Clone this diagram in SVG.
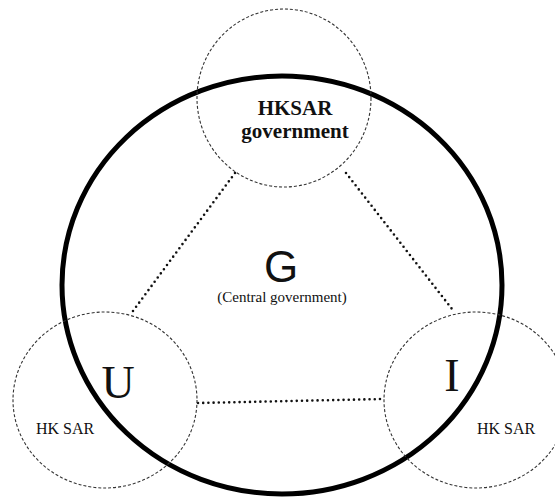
<svg xmlns="http://www.w3.org/2000/svg" width="555" height="497" viewBox="0 0 555 497">
  <style>
    .party { fill: none; stroke: #333; stroke-width: 1.1; stroke-dasharray: 3 2; }
    .outer { fill: none; stroke: #000; stroke-width: 5; }
    .link { fill: none; stroke: #111; stroke-width: 2.6; stroke-dasharray: 0 5.2; stroke-linecap: round; }
    .serif { font-family: "Liberation Serif", "Times New Roman", serif; fill: #111; }
    .sans { font-family: "Liberation Sans", Arial, sans-serif; fill: #111; }
  </style>

  <rect width="555" height="497" fill="#fff"/>

  <!-- outer boundary: central government -->
  <g id="central">
    <ellipse class="outer" cx="282" cy="285" rx="220" ry="209"/>
    <text class="sans" x="281" y="282" font-size="44" text-anchor="middle">G</text>
    <text class="serif" x="282" y="302" font-size="15" text-anchor="middle">(Central government)</text>
  </g>

  <!-- relations between the three parties -->
  <g id="connectors">
    <line class="link" x1="235" y1="173" x2="133" y2="311"/>
    <line class="link" x1="346" y1="173" x2="452" y2="309"/>
    <line class="link" x1="198" y1="403" x2="383" y2="399"/>
  </g>

  <g id="hksar-government">
    <ellipse class="party" cx="284" cy="98" rx="87" ry="89"/>
    <text class="serif" x="295" y="115" font-size="21" font-weight="bold" text-anchor="middle">HKSAR</text>
    <text class="serif" x="295" y="138" font-size="21" font-weight="bold" text-anchor="middle">government</text>
  </g>

  <g id="u">
    <ellipse class="party" cx="105" cy="400" rx="92" ry="88"/>
    <text class="serif" x="118" y="398" font-size="46" text-anchor="middle">U</text>
    <text class="serif" x="65" y="434" font-size="16" text-anchor="middle">HK SAR</text>
  </g>

  <g id="i">
    <ellipse class="party" cx="476" cy="400" rx="92" ry="88"/>
    <text class="serif" x="452" y="391" font-size="46" text-anchor="middle">I</text>
    <text class="serif" x="506" y="434" font-size="16" text-anchor="middle">HK SAR</text>
  </g>
</svg>
